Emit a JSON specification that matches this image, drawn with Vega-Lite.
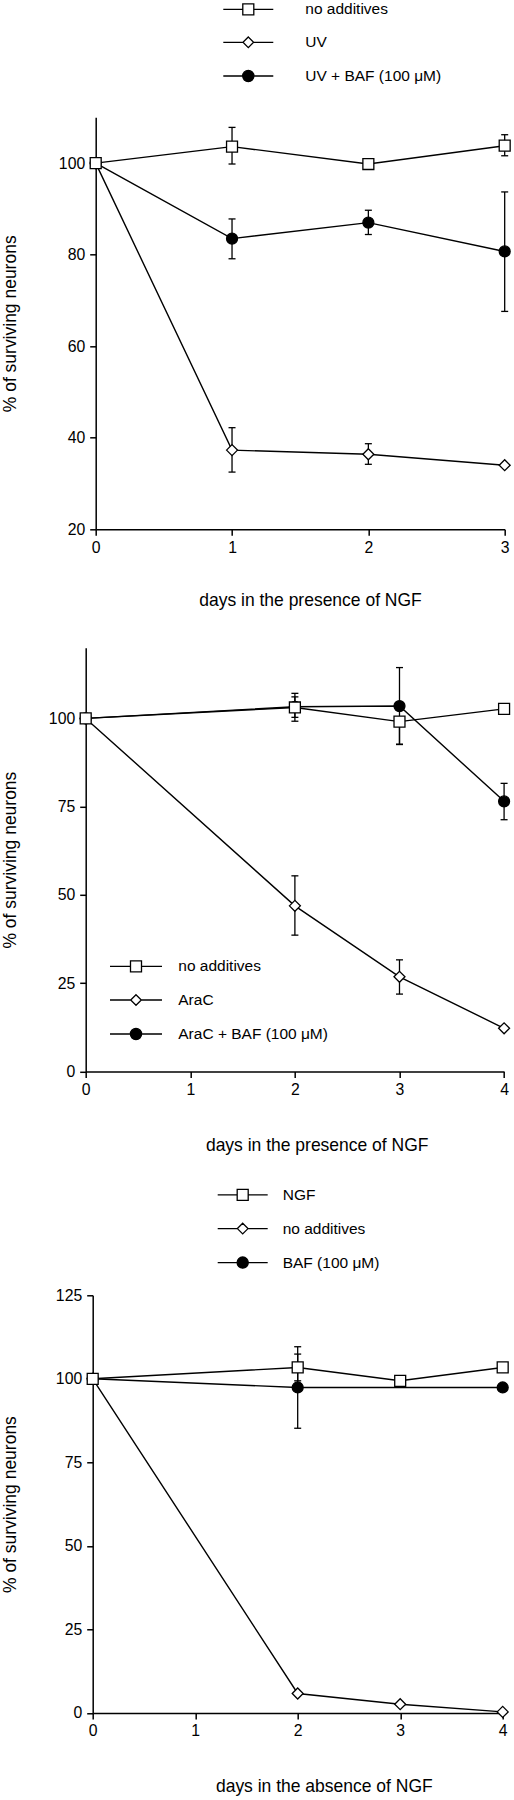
{
  "$schema": "https://vega.github.io/schema/vega-lite/v6.json",
  "background": "white",
  "padding": {"left": 0.7, "top": 1.3, "right": 0, "bottom": 0},
  "spacing": 31.5,
  "config": {
    "font": "Liberation Sans",
    "view": {"stroke": null},
    "axis": {
      "domainColor": "black", "domainWidth": 1.5,
      "tickColor": "black", "tickWidth": 1.5, "tickSize": 6,
      "labelFont": "Liberation Sans", "labelFontSize": 15.8, "labelColor": "black", "labelPadding": 5, "labelFlush": false,
      "titleFont": "Liberation Sans", "titleFontSize": 17.5, "titleFontWeight": "normal", "titleColor": "black",
      "grid": false
    },
    "legend": {
      "title": null, "orient": "none", "padding": 0, "symbolSize": 196, "symbolStrokeWidth": 1.3, "symbolOpacity": 1,
      "labelFont": "Liberation Sans", "labelFontSize": 15.5, "labelColor": "black", "labelBaseline": "middle"
    }
  },
  "data": {"values": [
    {"p":1,"s":"UV + BAF (100 μM)","d":0,"v":100},
    {"p":1,"s":"UV + BAF (100 μM)","d":1,"v":83.5,"lo":79.1,"hi":87.8},
    {"p":1,"s":"UV + BAF (100 μM)","d":2,"v":87.0,"lo":84.4,"hi":89.7},
    {"p":1,"s":"UV + BAF (100 μM)","d":3,"v":80.7,"lo":67.6,"hi":93.7},
    {"p":1,"s":"UV","d":0,"v":100},
    {"p":1,"s":"UV","d":1,"v":37.3,"lo":32.5,"hi":42.2},
    {"p":1,"s":"UV","d":2,"v":36.4,"lo":34.2,"hi":38.7},
    {"p":1,"s":"UV","d":3,"v":34.0},
    {"p":1,"s":"no additives","d":0,"v":100},
    {"p":1,"s":"no additives","d":1,"v":103.6,"lo":99.8,"hi":107.8},
    {"p":1,"s":"no additives","d":2,"v":99.8},
    {"p":1,"s":"no additives","d":3,"v":103.8,"lo":101.6,"hi":106.2},
    {"p":2,"s":"AraC + BAF (100 μM)","d":0,"v":100},
    {"p":2,"s":"AraC + BAF (100 μM)","d":2,"v":103.3,"lo":100.3,"hi":106.1},
    {"p":2,"s":"AraC + BAF (100 μM)","d":3,"v":103.5,"lo":92.6,"hi":114.4},
    {"p":2,"s":"AraC + BAF (100 μM)","d":4,"v":76.5,"lo":71.3,"hi":81.6},
    {"p":2,"s":"AraC","d":0,"v":100},
    {"p":2,"s":"AraC","d":2,"v":46.9,"lo":38.6,"hi":55.4},
    {"p":2,"s":"AraC","d":3,"v":26.8,"lo":21.9,"hi":31.6},
    {"p":2,"s":"AraC","d":4,"v":12.2},
    {"p":2,"s":"no additives","d":0,"v":100},
    {"p":2,"s":"no additives","d":2,"v":103.1,"lo":99.2,"hi":107.1},
    {"p":2,"s":"no additives","d":3,"v":99.1,"lo":92.7,"hi":99.1},
    {"p":2,"s":"no additives","d":4,"v":102.7},
    {"p":3,"s":"BAF (100 μM)","d":0,"v":100},
    {"p":3,"s":"BAF (100 μM)","d":2,"v":97.4,"lo":85.2,"hi":109.6},
    {"p":3,"s":"BAF (100 μM)","d":4,"v":97.4},
    {"p":3,"s":"no additives","d":0,"v":100},
    {"p":3,"s":"no additives","d":2,"v":5.8},
    {"p":3,"s":"no additives","d":3,"v":2.6},
    {"p":3,"s":"no additives","d":4,"v":0.3},
    {"p":3,"s":"NGF","d":0,"v":100},
    {"p":3,"s":"NGF","d":2,"v":103.4,"lo":99.4,"hi":107.4},
    {"p":3,"s":"NGF","d":3,"v":99.4},
    {"p":3,"s":"NGF","d":4,"v":103.4}
  ]},
  "resolve": {
    "scale": {"x": "independent", "y": "independent", "shape": "independent", "fill": "independent", "stroke": "independent"},
    "legend": {"shape": "independent", "fill": "independent", "stroke": "independent"}
  },
  "vconcat": [
    {
      "width": 409, "height": 412,
      "transform": [{"filter": "datum.p == 1"}],
      "encoding": {
        "x": {"field": "d", "type": "quantitative",
          "scale": {"domain": [0, 3], "nice": false, "zero": false},
          "axis": {"values": [0, 1, 2, 3], "format": "d", "labelAngle": 0, "title": "days in the presence of NGF", "titleX": 214.3, "titleY": 76.3, "titleBaseline": "alphabetic", "titleAlign": "center"}}
      },
      "resolve": {"scale": {"stroke": "independent"}, "legend": {"stroke": "independent"}},
      "layer": [
        {"mark": {"type": "line", "color": "black", "strokeWidth": 1.4},
         "encoding": {
           "y": {"field": "v", "type": "quantitative", "scale": {"domain": [20, 110], "nice": false, "zero": false},
             "axis": {"values": [20, 40, 60, 80, 100], "title": "% of surviving neurons", "titleX": -80.2, "titleBaseline": "alphabetic", "titleAlign": "center"}},
           "detail": {"field": "s"}}},
        {"transform": [{"filter": "isValid(datum.lo)"}],
         "mark": {"type": "rule", "color": "black", "strokeWidth": 1.3},
         "encoding": {"y": {"field": "lo", "type": "quantitative", "scale": {"domain": [20, 110], "nice": false, "zero": false},
             "axis": {"values": [20, 40, 60, 80, 100], "title": "% of surviving neurons", "titleX": -80.2, "titleBaseline": "alphabetic", "titleAlign": "center"}}, "y2": {"field": "hi"}}},
        {"transform": [{"filter": "isValid(datum.lo)"}],
         "mark": {"type": "tick", "orient": "horizontal", "color": "black", "size": 7, "thickness": 1.3, "opacity": 1},
         "encoding": {"y": {"field": "lo", "type": "quantitative", "scale": {"domain": [20, 110], "nice": false, "zero": false},
             "axis": {"values": [20, 40, 60, 80, 100], "title": "% of surviving neurons", "titleX": -80.2, "titleBaseline": "alphabetic", "titleAlign": "center"}}}},
        {"transform": [{"filter": "isValid(datum.hi)"}],
         "mark": {"type": "tick", "orient": "horizontal", "color": "black", "size": 7, "thickness": 1.3, "opacity": 1},
         "encoding": {"y": {"field": "hi", "type": "quantitative", "scale": {"domain": [20, 110], "nice": false, "zero": false},
             "axis": {"values": [20, 40, 60, 80, 100], "title": "% of surviving neurons", "titleX": -80.2, "titleBaseline": "alphabetic", "titleAlign": "center"}}}},
        {"mark": {"type": "point", "filled": true, "stroke": "black", "strokeWidth": 1.3, "size": 120, "opacity": 1},
         "encoding": {
           "y": {"field": "v", "type": "quantitative", "scale": {"domain": [20, 110], "nice": false, "zero": false},
             "axis": {"values": [20, 40, 60, 80, 100], "title": "% of surviving neurons", "titleX": -80.2, "titleBaseline": "alphabetic", "titleAlign": "center"}},
           "shape": {"field": "s", "type": "nominal",
             "scale": {"domain": ["no additives", "UV", "UV + BAF (100 μM)"], "range": ["square", "diamond", "circle"]}, "legend": null},
           "fill": {"field": "s", "type": "nominal",
             "scale": {"domain": ["no additives", "UV", "UV + BAF (100 μM)"], "range": ["white", "white", "black"]}, "legend": null}}},
        {"transform": [{"filter": "false"}],
         "mark": {"type": "point", "shape": "M-3.571,0H-0.786M0.786,0H3.571M-0.786,-0.786H0.786V0.786H-0.786Z", "filled": true, "fill": "white", "strokeWidth": 1.3, "opacity": 1},
         "encoding": {"stroke": {"field": "s", "type": "nominal", "scale": {"domain": ["no additives"], "range": ["black"]},
           "legend": {"legendX": 127.6, "legendY": -116, "symbolOffset": 17, "labelOffset": 49, "symbolFillColor": "white",
             "symbolType": "M-3.571,0H-0.786M0.786,0H3.571M-0.786,-0.786H0.786V0.786H-0.786Z"}}}},
        {"transform": [{"filter": "false"}],
         "mark": {"type": "point", "shape": "M-3.571,0H-0.757M0.757,0H3.571M0,-0.757L0.757,0L0,0.757L-0.757,0Z", "filled": true, "fill": "white", "strokeWidth": 1.3, "opacity": 1},
         "encoding": {"stroke": {"field": "s", "type": "nominal", "scale": {"domain": ["UV"], "range": ["black"]},
           "legend": {"legendX": 127.6, "legendY": -83, "symbolOffset": 17, "labelOffset": 49, "symbolFillColor": "white",
             "symbolType": "M-3.571,0H-0.757M0.757,0H3.571M0,-0.757L0.757,0L0,0.757L-0.757,0Z"}}}},
        {"transform": [{"filter": "false"}],
         "mark": {"type": "point", "shape": "M-3.571,0H-0.8M0.8,0H3.571M0.8,0A0.8,0.8,0,1,1,-0.8,0A0.8,0.8,0,1,1,0.8,0Z", "filled": true, "fill": "black", "strokeWidth": 1.3, "opacity": 1},
         "encoding": {"stroke": {"field": "s", "type": "nominal", "scale": {"domain": ["UV + BAF (100 μM)"], "range": ["black"]},
           "legend": {"legendX": 127.6, "legendY": -49.3, "symbolOffset": 17, "labelOffset": 49, "symbolFillColor": "black",
             "symbolType": "M-3.571,0H-0.8M0.8,0H3.571M0.8,0A0.8,0.8,0,1,1,-0.8,0A0.8,0.8,0,1,1,0.8,0Z"}}}}
      ]
    },
    {
      "width": 408, "height": 423.6,
      "title": {"text": " ", "fontSize": 2, "offset": 5},
      "transform": [{"filter": "datum.p == 2"}],
      "encoding": {
        "x": {"field": "d", "type": "quantitative",
          "scale": {"domain": [0, 4], "range": [-10, 408.4], "nice": false, "zero": false},
          "axis": {"values": [0, 1, 2, 3, 4], "format": "d", "labelAngle": 0, "title": "days in the presence of NGF", "titleX": 221, "titleY": 79.2, "titleBaseline": "alphabetic", "titleAlign": "center"}}
      },
      "resolve": {"scale": {"stroke": "independent"}, "legend": {"stroke": "independent"}},
      "layer": [
        {"mark": {"type": "line", "color": "black", "strokeWidth": 1.4},
         "encoding": {
           "y": {"field": "v", "type": "quantitative", "scale": {"domain": [0, 120], "nice": false},
             "axis": {"values": [0, 25, 50, 75, 100], "offset": 10, "title": "% of surviving neurons", "titleX": -70.2, "titleBaseline": "alphabetic", "titleAlign": "center"}},
           "detail": {"field": "s"}}},
        {"transform": [{"filter": "isValid(datum.lo)"}],
         "mark": {"type": "rule", "color": "black", "strokeWidth": 1.3},
         "encoding": {"y": {"field": "lo", "type": "quantitative", "scale": {"domain": [0, 120], "nice": false},
             "axis": {"values": [0, 25, 50, 75, 100], "offset": 10, "title": "% of surviving neurons", "titleX": -70.2, "titleBaseline": "alphabetic", "titleAlign": "center"}}, "y2": {"field": "hi"}}},
        {"transform": [{"filter": "isValid(datum.lo)"}],
         "mark": {"type": "tick", "orient": "horizontal", "color": "black", "size": 7, "thickness": 1.3, "opacity": 1},
         "encoding": {"y": {"field": "lo", "type": "quantitative", "scale": {"domain": [0, 120], "nice": false},
             "axis": {"values": [0, 25, 50, 75, 100], "offset": 10, "title": "% of surviving neurons", "titleX": -70.2, "titleBaseline": "alphabetic", "titleAlign": "center"}}}},
        {"transform": [{"filter": "isValid(datum.hi)"}],
         "mark": {"type": "tick", "orient": "horizontal", "color": "black", "size": 7, "thickness": 1.3, "opacity": 1},
         "encoding": {"y": {"field": "hi", "type": "quantitative", "scale": {"domain": [0, 120], "nice": false},
             "axis": {"values": [0, 25, 50, 75, 100], "offset": 10, "title": "% of surviving neurons", "titleX": -70.2, "titleBaseline": "alphabetic", "titleAlign": "center"}}}},
        {"mark": {"type": "point", "filled": true, "stroke": "black", "strokeWidth": 1.3, "size": 120, "opacity": 1},
         "encoding": {
           "y": {"field": "v", "type": "quantitative", "scale": {"domain": [0, 120], "nice": false},
             "axis": {"values": [0, 25, 50, 75, 100], "offset": 10, "title": "% of surviving neurons", "titleX": -70.2, "titleBaseline": "alphabetic", "titleAlign": "center"}},
           "shape": {"field": "s", "type": "nominal",
             "scale": {"domain": ["no additives", "AraC", "AraC + BAF (100 μM)"], "range": ["square", "diamond", "circle"]}, "legend": null},
           "fill": {"field": "s", "type": "nominal",
             "scale": {"domain": ["no additives", "AraC", "AraC + BAF (100 μM)"], "range": ["white", "white", "black"]}, "legend": null}}},
        {"transform": [{"filter": "false"}],
         "mark": {"type": "point", "shape": "M-3.714,0H-0.786M0.786,0H3.714M-0.786,-0.786H0.786V0.786H-0.786Z", "filled": true, "fill": "white", "strokeWidth": 1.3, "opacity": 1},
         "encoding": {"stroke": {"field": "s", "type": "nominal", "scale": {"domain": ["no additives"], "range": ["black"]},
           "legend": {"legendX": 14.3, "legendY": 310.6, "symbolOffset": 18, "labelOffset": 34.3, "symbolFillColor": "white",
             "symbolType": "M-3.714,0H-0.786M0.786,0H3.714M-0.786,-0.786H0.786V0.786H-0.786Z"}}}},
        {"transform": [{"filter": "false"}],
         "mark": {"type": "point", "shape": "M-3.714,0H-0.757M0.757,0H3.714M0,-0.757L0.757,0L0,0.757L-0.757,0Z", "filled": true, "fill": "white", "strokeWidth": 1.3, "opacity": 1},
         "encoding": {"stroke": {"field": "s", "type": "nominal", "scale": {"domain": ["AraC"], "range": ["black"]},
           "legend": {"legendX": 14.3, "legendY": 344.2, "symbolOffset": 18, "labelOffset": 34.3, "symbolFillColor": "white",
             "symbolType": "M-3.714,0H-0.757M0.757,0H3.714M0,-0.757L0.757,0L0,0.757L-0.757,0Z"}}}},
        {"transform": [{"filter": "false"}],
         "mark": {"type": "point", "shape": "M-3.714,0H-0.8M0.8,0H3.714M0.8,0A0.8,0.8,0,1,1,-0.8,0A0.8,0.8,0,1,1,0.8,0Z", "filled": true, "fill": "black", "strokeWidth": 1.3, "opacity": 1},
         "encoding": {"stroke": {"field": "s", "type": "nominal", "scale": {"domain": ["AraC + BAF (100 μM)"], "range": ["black"]},
           "legend": {"legendX": 14.3, "legendY": 378.2, "symbolOffset": 18, "labelOffset": 34.3, "symbolFillColor": "black",
             "symbolType": "M-3.714,0H-0.8M0.8,0H3.714M0.8,0A0.8,0.8,0,1,1,-0.8,0A0.8,0.8,0,1,1,0.8,0Z"}}}}
      ]
    },
    {
      "width": 407, "height": 417.6,
      "transform": [{"filter": "datum.p == 3"}],
      "encoding": {
        "x": {"field": "d", "type": "quantitative",
          "scale": {"domain": [0, 4], "range": [-3, 407], "nice": false, "zero": false},
          "axis": {"values": [0, 1, 2, 3, 4], "format": "d", "labelAngle": 0, "title": "days in the absence of NGF", "titleX": 228.1, "titleY": 79, "titleBaseline": "alphabetic", "titleAlign": "center"}}
      },
      "resolve": {"scale": {"stroke": "independent"}, "legend": {"stroke": "independent"}},
      "layer": [
        {"mark": {"type": "line", "color": "black", "strokeWidth": 1.4},
         "encoding": {
           "y": {"field": "v", "type": "quantitative", "scale": {"domain": [0, 125], "nice": false},
             "axis": {"values": [0, 25, 50, 75, 100, 125], "offset": 3, "title": "% of surviving neurons", "titleX": -77.2, "titleBaseline": "alphabetic", "titleAlign": "center"}},
           "detail": {"field": "s"}}},
        {"transform": [{"filter": "isValid(datum.lo)"}],
         "mark": {"type": "rule", "color": "black", "strokeWidth": 1.3},
         "encoding": {"y": {"field": "lo", "type": "quantitative", "scale": {"domain": [0, 125], "nice": false},
             "axis": {"values": [0, 25, 50, 75, 100, 125], "offset": 3, "title": "% of surviving neurons", "titleX": -77.2, "titleBaseline": "alphabetic", "titleAlign": "center"}}, "y2": {"field": "hi"}}},
        {"transform": [{"filter": "isValid(datum.lo)"}],
         "mark": {"type": "tick", "orient": "horizontal", "color": "black", "size": 7, "thickness": 1.3, "opacity": 1},
         "encoding": {"y": {"field": "lo", "type": "quantitative", "scale": {"domain": [0, 125], "nice": false},
             "axis": {"values": [0, 25, 50, 75, 100, 125], "offset": 3, "title": "% of surviving neurons", "titleX": -77.2, "titleBaseline": "alphabetic", "titleAlign": "center"}}}},
        {"transform": [{"filter": "isValid(datum.hi)"}],
         "mark": {"type": "tick", "orient": "horizontal", "color": "black", "size": 7, "thickness": 1.3, "opacity": 1},
         "encoding": {"y": {"field": "hi", "type": "quantitative", "scale": {"domain": [0, 125], "nice": false},
             "axis": {"values": [0, 25, 50, 75, 100, 125], "offset": 3, "title": "% of surviving neurons", "titleX": -77.2, "titleBaseline": "alphabetic", "titleAlign": "center"}}}},
        {"mark": {"type": "point", "filled": true, "stroke": "black", "strokeWidth": 1.3, "size": 120, "opacity": 1},
         "encoding": {
           "y": {"field": "v", "type": "quantitative", "scale": {"domain": [0, 125], "nice": false},
             "axis": {"values": [0, 25, 50, 75, 100, 125], "offset": 3, "title": "% of surviving neurons", "titleX": -77.2, "titleBaseline": "alphabetic", "titleAlign": "center"}},
           "shape": {"field": "s", "type": "nominal",
             "scale": {"domain": ["NGF", "no additives", "BAF (100 μM)"], "range": ["square", "diamond", "circle"]}, "legend": null},
           "fill": {"field": "s", "type": "nominal",
             "scale": {"domain": ["NGF", "no additives", "BAF (100 μM)"], "range": ["white", "white", "black"]}, "legend": null}}},
        {"transform": [{"filter": "false"}],
         "mark": {"type": "point", "shape": "M-3.571,0H-0.786M0.786,0H3.571M-0.786,-0.786H0.786V0.786H-0.786Z", "filled": true, "fill": "white", "strokeWidth": 1.3, "opacity": 1},
         "encoding": {"stroke": {"field": "s", "type": "nominal", "scale": {"domain": ["NGF"], "range": ["black"]},
           "legend": {"legendX": 122, "legendY": -108.4, "symbolOffset": 17, "labelOffset": 32, "symbolFillColor": "white",
             "symbolType": "M-3.571,0H-0.786M0.786,0H3.571M-0.786,-0.786H0.786V0.786H-0.786Z"}}}},
        {"transform": [{"filter": "false"}],
         "mark": {"type": "point", "shape": "M-3.571,0H-0.757M0.757,0H3.571M0,-0.757L0.757,0L0,0.757L-0.757,0Z", "filled": true, "fill": "white", "strokeWidth": 1.3, "opacity": 1},
         "encoding": {"stroke": {"field": "s", "type": "nominal", "scale": {"domain": ["no additives"], "range": ["black"]},
           "legend": {"legendX": 122, "legendY": -74.7, "symbolOffset": 17, "labelOffset": 32, "symbolFillColor": "white",
             "symbolType": "M-3.571,0H-0.757M0.757,0H3.571M0,-0.757L0.757,0L0,0.757L-0.757,0Z"}}}},
        {"transform": [{"filter": "false"}],
         "mark": {"type": "point", "shape": "M-3.571,0H-0.8M0.8,0H3.571M0.8,0A0.8,0.8,0,1,1,-0.8,0A0.8,0.8,0,1,1,0.8,0Z", "filled": true, "fill": "black", "strokeWidth": 1.3, "opacity": 1},
         "encoding": {"stroke": {"field": "s", "type": "nominal", "scale": {"domain": ["BAF (100 μM)"], "range": ["black"]},
           "legend": {"legendX": 122, "legendY": -40.7, "symbolOffset": 17, "labelOffset": 32, "symbolFillColor": "black",
             "symbolType": "M-3.571,0H-0.8M0.8,0H3.571M0.8,0A0.8,0.8,0,1,1,-0.8,0A0.8,0.8,0,1,1,0.8,0Z"}}}}
      ]
    }
  ]
}
